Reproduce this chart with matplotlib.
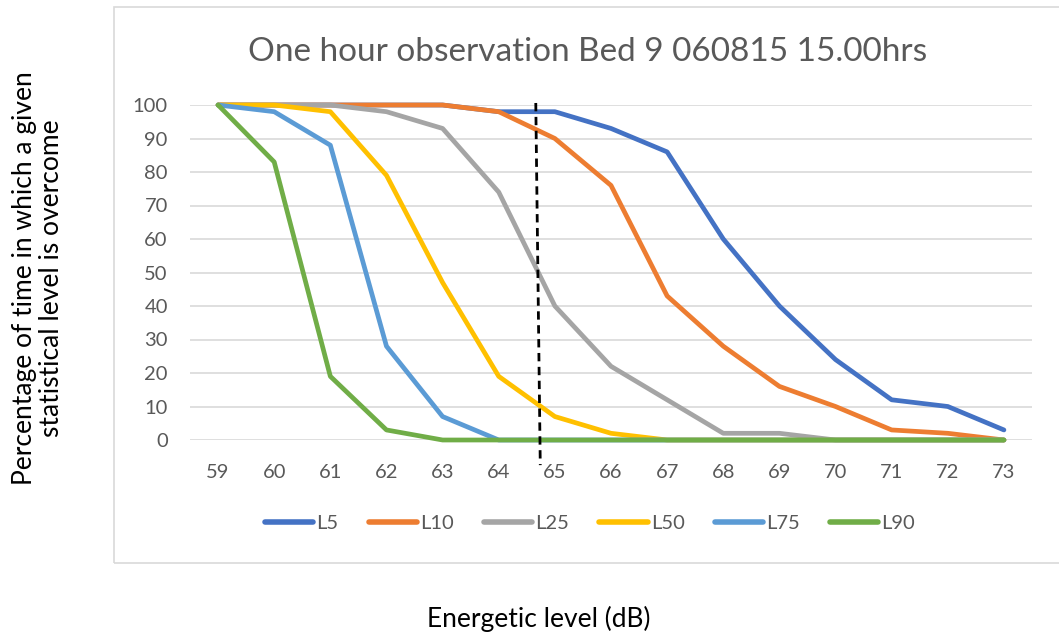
import matplotlib
matplotlib.use("Agg")
import matplotlib.pyplot as plt
from matplotlib.patches import Rectangle

plt.rcParams['font.family'] = ['Lato', 'DejaVu Sans']

levels = [59, 60, 61, 62, 63, 64, 65, 66, 67, 68, 69, 70, 71, 72, 73]
series_names = ["L5", "L10", "L25", "L50", "L75", "L90"]
l5 = [100, 100, 100, 100, 100, 98, 98, 93, 86, 60, 40, 24, 12, 10, 3]
l10 = [100, 100, 100, 100, 100, 98, 90, 76, 43, 28, 16, 10, 3, 2, 0]
l25 = [100, 100, 100, 98, 93, 74, 40, 22, 12, 2, 2, 0, 0, 0, 0]
l50 = [100, 100, 98, 79, 47, 19, 7, 2, 0, 0, 0, 0, 0, 0, 0]
l75 = [100, 98, 88, 28, 7, 0, 0, 0, 0, 0, 0, 0, 0, 0, 0]
l90 = [100, 83, 19, 3, 0, 0, 0, 0, 0, 0, 0, 0, 0, 0, 0]
colors = ["#4472C4", "#ED7D31", "#A5A5A5", "#FFC000", "#5B9BD5", "#70AD47"]
y_ticks = list(range(0, 101, 10))

# reference marker line (dB level)
marker_x = [64.66, 64.74]
marker_y = [100.6, -7.5]

W, H = 1059, 637
fig = plt.figure(figsize=(W / 100, H / 100), dpi=100)
fig.patch.set_facecolor("white")

# chart frame
fig.patches.append(Rectangle((114 / W, 1 - 563 / H), (1070 - 114) / W, (563 - 7) / H,
                             transform=fig.transFigure, fill=False,
                             edgecolor="#D9D9D9", linewidth=1.2))

ax = fig.add_axes([190 / W, 1 - 440 / H, (1032 - 190) / W, (440 - 105) / H])
ax.set_xlim(58.5, 73.5)
ax.set_ylim(0, 100)
ax.set_yticks(y_ticks)
ax.set_xticks(levels)
ax.set_xticklabels([str(v) for v in levels])
ax.grid(axis="y", color="#D9D9D9", linewidth=1.2)
ax.set_axisbelow(True)
for s in ax.spines.values():
    s.set_visible(False)
ax.tick_params(axis="both", length=0, labelsize=14.5, labelcolor="#595959")
ax.tick_params(axis="x", pad=17)
ax.tick_params(axis="y", pad=16)

all_series = [l5, l10, l25, l50, l75, l90]
handles = []
for name, vals, c in zip(series_names, all_series, colors):
    ln, = ax.plot(levels, vals, color=c, linewidth=3.4, solid_capstyle="round",
                  solid_joinstyle="round", clip_on=False, label=name)
    handles.append(ln)

ax.plot(marker_x, marker_y, color="black", linestyle=(0, (3, 2)), linewidth=2,
        clip_on=False, zorder=5)

fig.text(588 / W, 1 - 52 / H, "One hour observation Bed 9 060815 15.00hrs",
         ha="center", va="center", fontsize=24, color="#595959")

leg = fig.legend(handles=handles, labels=series_names, loc="center",
                 bbox_to_anchor=(590 / W, 1 - 523 / H), ncol=6, frameon=False,
                 fontsize=14.5, handlelength=2.4, columnspacing=1.5,
                 handletextpad=0.15)
for t in leg.get_texts():
    t.set_color("#595959")
for ln in leg.get_lines():
    ln.set_linewidth(4)
    ln.set_solid_capstyle("round")

fig.text(38 / W, 1 - 278 / H,
         "Percentage of time in which a given\nstatistical level is overcome",
         rotation=90, ha="center", va="center", fontsize=19, color="black",
         linespacing=1.1)
fig.text(539 / W, 1 - 619 / H, "Energetic level (dB)", ha="center", va="center",
         fontsize=19, color="black")

fig.savefig("out.png", dpi=100, facecolor="white")
